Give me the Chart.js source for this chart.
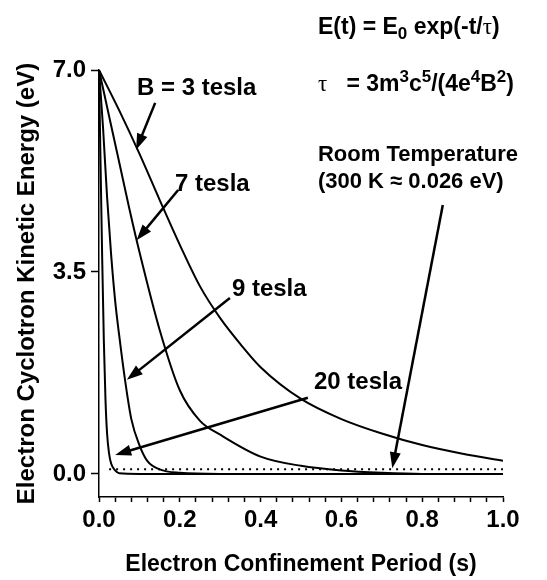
<!DOCTYPE html>
<html>
<head>
<meta charset="utf-8">
<script src="https://cdn.jsdelivr.net/npm/chart.js@4"></script>
<style>
  html, body { margin: 0; padding: 0; background: #fff; }
</style>
</head>
<body>
<canvas id="chart" width="547" height="580"></canvas>
<script>
// decay curves: time (s) and energy (eV)
const t3 = [0, 0.05, 0.1, 0.15, 0.2, 0.25, 0.3, 0.35, 0.4, 0.5, 0.6, 0.7, 0.8, 0.9, 1.0];
const e3 = [7.0, 6.3, 5.55, 4.75, 3.97, 3.25, 2.7, 2.25, 1.85, 1.3, 0.95, 0.7, 0.5, 0.35, 0.23];
const t7 = [0, 0.025, 0.05, 0.075, 0.1, 0.15, 0.2, 0.25, 0.3, 0.4, 0.5, 0.6, 0.7, 0.8, 1.0];
const e7 = [7.0, 6.2, 5.4, 4.6, 3.85, 2.5, 1.45, 0.92, 0.68, 0.3, 0.14, 0.06, 0.02, 0, 0];
const t9 = [0, 0.01, 0.02, 0.03, 0.04, 0.05, 0.065, 0.08, 0.1, 0.12, 0.15, 0.2, 0.3, 1.0];
const e9 = [7.0, 6.0, 4.8, 3.8, 3.0, 2.4, 1.6, 0.95, 0.5, 0.22, 0.08, 0.02, 0, 0];
const t20 = [0, 0.004, 0.008, 0.012, 0.016, 0.02, 0.025, 0.03, 0.04, 0.05, 0.1, 1.0];
const e20 = [7.0, 5.3, 3.7, 2.3, 1.3, 0.7, 0.35, 0.18, 0.06, 0.01, 0, 0];
// room temperature level as drawn (dotted line)
const roomT = [0.025, 1.0];
const roomE = [0.08, 0.08];

const yTicks = [0, 3.5, 7.0];
const xMajor = [0, 0.2, 0.4, 0.6, 0.8, 1.0];

// annotation text, anchored at (t, E), left edge / middle
const notes = [
  { t: 0.094, e: 6.69, size: 24, parts: [["B = 3 tesla"]] },
  { t: 0.188, e: 5.01, size: 24, parts: [["7 tesla"]] },
  { t: 0.329, e: 3.19, size: 24, parts: [["9 tesla"]] },
  { t: 0.532, e: 1.58, size: 24, parts: [["20 tesla"]] },
  { t: 0.542, e: 5.53, size: 22, parts: [["Room Temperature"]] },
  { t: 0.542, e: 5.06, size: 22, parts: [["(300 K \u2248 0.026 eV)"]] },
  { t: 0.542, e: 7.73, size: 23, parts: [["E(t) = E"], ["0", "sub"], [" exp(-t/"], ["\u03c4", "greek"], [")"]] },
  { t: 0.542, e: 6.74, size: 23, parts: [["\u03c4", "greek"], ["   = 3m"], ["3", "sup"], ["c"], ["5", "sup"], ["/(4e"], ["4", "sup"], ["B"], ["2", "sup"], [")"]] }
];
// arrows: from (t, E) to tip (t, E)
const arrows = [
  [0.139, 6.43, 0.092, 5.62],
  [0.196, 4.92, 0.093, 4.05],
  [0.324, 3.05, 0.069, 1.63],
  [0.517, 1.32, 0.04, 0.33],
  [0.851, 4.66, 0.726, 0.1]
];

const FONT = '"Liberation Sans", Arial, Helvetica, sans-serif';
const pts = (ts, es) => ts.map((t, i) => ({ x: t, y: es[i] }));

function curve(data) {
  return {
    data: data,
    borderColor: "#000",
    borderWidth: 2,
    pointRadius: 0,
    fill: false,
    cubicInterpolationMode: "monotone"
  };
}

function drawArrow(ctx, x1, y1, x2, y2) {
  const ang = Math.atan2(y2 - y1, x2 - x1);
  const len = 16, half = 5.5;
  ctx.lineWidth = 2.5;
  ctx.beginPath();
  ctx.moveTo(x1, y1);
  ctx.lineTo(x2 - Math.cos(ang) * len * 0.8, y2 - Math.sin(ang) * len * 0.8);
  ctx.stroke();
  ctx.beginPath();
  ctx.moveTo(x2, y2);
  ctx.lineTo(x2 - Math.cos(ang) * len - Math.sin(ang) * half, y2 - Math.sin(ang) * len + Math.cos(ang) * half);
  ctx.lineTo(x2 - Math.cos(ang) * len + Math.sin(ang) * half, y2 - Math.sin(ang) * len - Math.cos(ang) * half);
  ctx.closePath();
  ctx.fill();
}

function drawRich(ctx, parts, x, y, size) {
  const small = Math.round(size * 0.74);
  ctx.textBaseline = "middle";
  ctx.textAlign = "left";
  parts.forEach(([txt, kind]) => {
    let dy = 0;
    if (kind === "sub") { ctx.font = "bold " + small + "px " + FONT; dy = 6; }
    else if (kind === "sup") { ctx.font = "bold " + small + "px " + FONT; dy = -8; }
    else if (kind === "greek") { ctx.font = size + 'px "Liberation Serif", "DejaVu Serif", serif'; }
    else { ctx.font = "bold " + size + "px " + FONT; }
    ctx.fillText(txt, x, y + dy);
    x += ctx.measureText(txt).width;
  });
}

const annotate = {
  id: "annotate",
  afterDraw(chart) {
    const { ctx, scales: { x, y } } = chart;
    ctx.save();
    ctx.fillStyle = "#000";
    ctx.strokeStyle = "#000";
    arrows.forEach(a => drawArrow(ctx, x.getPixelForValue(a[0]), y.getPixelForValue(a[1]),
      x.getPixelForValue(a[2]), y.getPixelForValue(a[3])));
    notes.forEach(n => drawRich(ctx, n.parts, x.getPixelForValue(n.t), y.getPixelForValue(n.e), n.size));
    ctx.restore();
  }
};

new Chart(document.getElementById("chart"), {
  type: "line",
  data: {
    datasets: [
      curve(pts(t3, e3)),
      curve(pts(t7, e7)),
      curve(pts(t9, e9)),
      curve(pts(t20, e20)),
      {
        data: pts(roomT, roomE),
        borderColor: "#000",
        borderWidth: 2,
        borderDash: [2, 5],
        pointRadius: 0,
        fill: false
      }
    ]
  },
  options: {
    responsive: false,
    animation: false,
    layout: { padding: { top: 70, right: 44, left: 0, bottom: 0 } },
    plugins: { legend: { display: false }, tooltip: { enabled: false } },
    scales: {
      x: {
        type: "linear",
        min: 0,
        max: 1,
        afterFit: s => { s.height = 83; },
        afterBuildTicks: s => {
          const v = [];
          for (let i = 0; i <= 25; i++) v.push({ value: i * 0.04 });
          s.ticks = v;
        },
        border: { color: "#000", width: 1.5 },
        grid: { drawOnChartArea: false, color: "#000", tickColor: "#000", tickLength: 5, tickWidth: 1.5 },
        ticks: {
          autoSkip: false,
          maxRotation: 0,
          padding: 4,
          color: "#000",
          font: { family: FONT, size: 24, weight: "bold" },
          callback: v => xMajor.some(m => Math.abs(m - v) < 1e-6) ? v.toFixed(1) : ""
        },
        title: {
          display: true,
          text: "Electron Confinement Period (s)",
          color: "#000",
          font: { family: FONT, size: 23, weight: "bold" },
          padding: { top: 0, bottom: 2 }
        }
      },
      y: {
        type: "linear",
        min: -0.4,
        max: 7.0,
        afterFit: s => { s.width = 99; },
        afterBuildTicks: s => { s.ticks = yTicks.map(v => ({ value: v })); },
        border: { color: "#000", width: 1.5 },
        grid: { drawOnChartArea: false, color: "#000", tickColor: "#000", tickLength: 8, tickWidth: 1.5 },
        ticks: {
          padding: 5,
          color: "#000",
          font: { family: FONT, size: 24, weight: "bold" },
          callback: v => v.toFixed(1)
        },
        title: {
          display: true,
          text: "Electron Cyclotron Kinetic Energy (eV)",
          color: "#000",
          font: { family: FONT, size: 24, weight: "bold" },
          padding: { top: 13, bottom: 0 }
        }
      }
    }
  },
  plugins: [annotate]
});
</script>
</body>
</html>
